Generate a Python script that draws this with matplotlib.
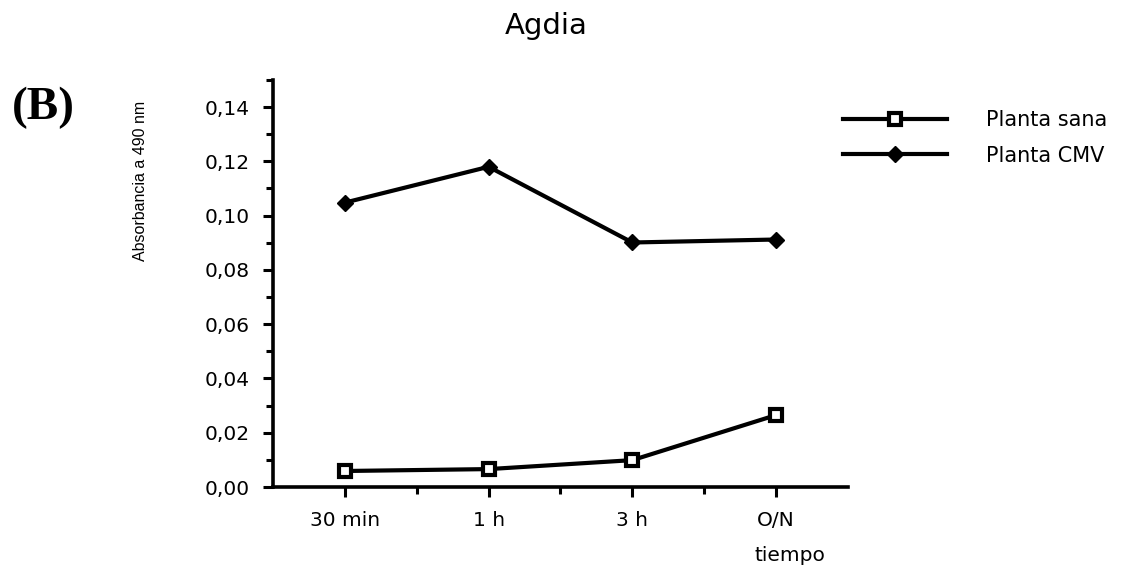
import matplotlib
matplotlib.use("Agg")
import matplotlib.pyplot as plt
from matplotlib.ticker import FuncFormatter, MultipleLocator

# data
tiempos = ["30 min", "1 h", "3 h", "O/N"]
planta_sana = [0.0059, 0.0066, 0.0099, 0.0265]
planta_cmv = [0.1048, 0.1180, 0.0901, 0.0912]

plt.rcParams["font.family"] = ["DejaVu Sans"]

fig = plt.figure(figsize=(11.24, 5.71), dpi=100)
ax = fig.add_axes([0.2429, 0.1471, 0.5115, 0.7129])

x = list(range(len(tiempos)))
ax.plot(x, planta_sana, color="black", lw=3, marker="s", ms=8,
        mfc="white", mec="black", mew=3, label="Planta sana")
ax.plot(x, planta_cmv, color="black", lw=3, marker="D", ms=8.5,
        mfc="black", mec="black", label="Planta CMV")

ax.set_xlim(-0.5, 3.5)
ax.set_ylim(0, 0.15)
ax.set_xticks(x)
ax.set_xticklabels(tiempos)
ax.set_xticks([0.5, 1.5, 2.5], minor=True)
ax.set_yticks([0.0, 0.02, 0.04, 0.06, 0.08, 0.10, 0.12, 0.14])
ax.yaxis.set_minor_locator(MultipleLocator(0.01))
ax.yaxis.set_major_formatter(FuncFormatter(lambda v, p: f"{v:.2f}".replace(".", ",")))

for s in ["top", "right"]:
    ax.spines[s].set_visible(False)
for s in ["left", "bottom"]:
    ax.spines[s].set_linewidth(2.6)

ax.tick_params(axis="both", which="major", direction="out", length=7, width=2.2,
               labelsize=14.5, pad=10)
ax.tick_params(axis="both", which="minor", direction="out", length=5, width=2.2)

fig.text(0.486, 0.955, "Agdia", ha="center", va="center", fontsize=21)
fig.text(0.0387, 0.811, "(B)", ha="center", va="center", fontsize=34,
         family="Liberation Serif", weight="bold")
fig.text(0.1246, 0.683, "Absorbancia a 490 nm", rotation=90, ha="center",
         va="center", fontsize=11.5, family="Liberation Sans")
fig.text(0.703, 0.028, "tiempo", ha="center", va="center", fontsize=14.5)

ax.legend(loc="upper left", bbox_to_anchor=(0.733, 0.84),
          bbox_transform=fig.transFigure, frameon=False, fontsize=15,
          handlelength=5.0, handletextpad=1.9, labelspacing=0.75)

fig.savefig("out.png", dpi=100, facecolor="white")
